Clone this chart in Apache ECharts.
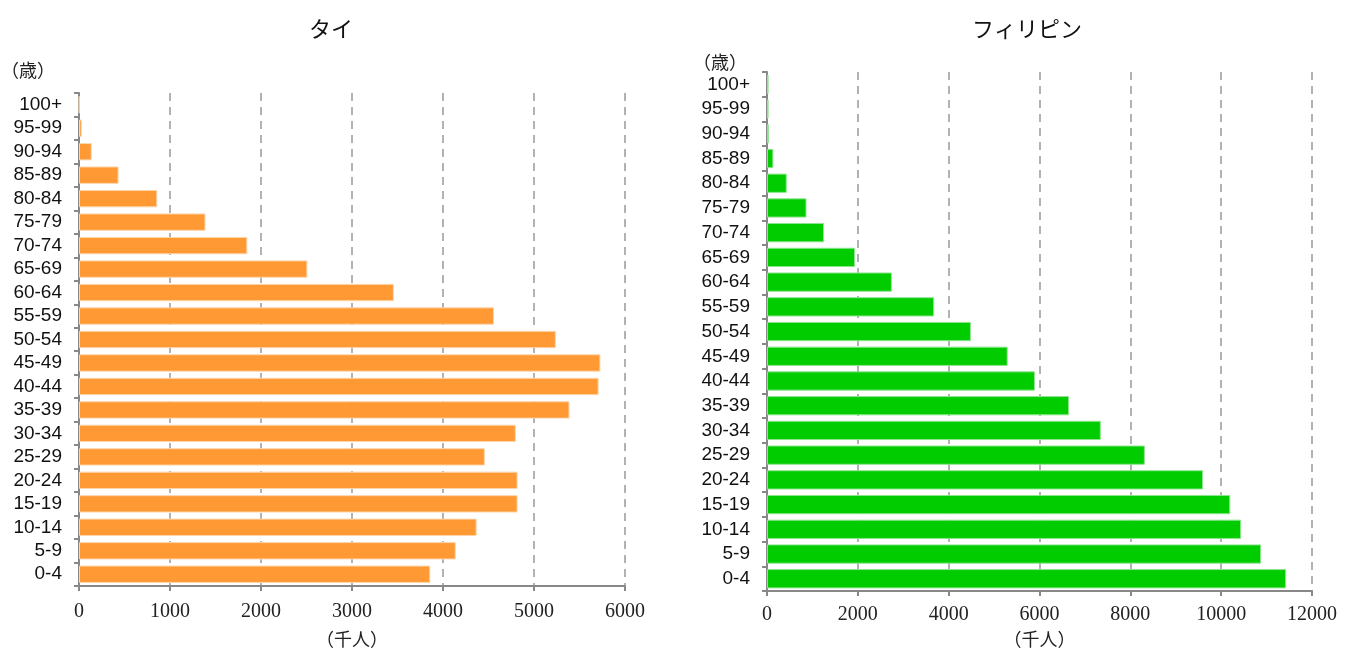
<!DOCTYPE html>
<html>
<head>
<meta charset="utf-8">
<script src="https://cdn.jsdelivr.net/npm/echarts@6/dist/echarts.min.js"></script>
<style>
  html, body { margin: 0; padding: 0; background: #fff; }
  #chart { width: 1352px; height: 653px; }
</style>
</head>
<body>
<div id="chart"></div>
<script>
// 年齢階級（下から上）
var ageGroups = ['0-4', '5-9', '10-14', '15-19', '20-24', '25-29', '30-34', '35-39', '40-44',
  '45-49', '50-54', '55-59', '60-64', '65-69', '70-74', '75-79', '80-84', '85-89', '90-94', '95-99', '100+'];

// タイ（千人）
var thaiValues = [3860, 4140, 4370, 4820, 4820, 4460, 4800, 5390, 5710,
  5730, 5240, 4560, 3460, 2510, 1850, 1390, 860, 435, 140, 30, 5];

// フィリピン（千人）
var philValues = [11430, 10880, 10440, 10200, 9600, 8320, 7350, 6650, 5900,
  5300, 4490, 3680, 2750, 1940, 1255, 870, 435, 140, 40, 35, 35];

var thaiTicks = [0, 6000, 1000];
var philTicks = [0, 12000, 2000];

var labelFont = 'Liberation Sans, Arial, sans-serif';
var cjkFont = '"Noto Sans CJK JP", sans-serif';
var serifFont = 'Liberation Serif, Times New Roman, serif';

function valueAxis(idx, ticks, gap, margin) {
  return {
    type: 'value',
    gridIndex: idx,
    min: ticks[0],
    max: ticks[1],
    interval: ticks[2],
    name: '（千人）',
    nameLocation: 'middle',
    nameGap: gap,
    nameTextStyle: { fontFamily: cjkFont, fontSize: 18, color: '#222' },
    axisLine: { show: true, lineStyle: { color: '#888', width: 2 } },
    axisTick: { show: true, length: 5, lineStyle: { color: '#888', width: 2 } },
    axisLabel: {
      fontFamily: serifFont, fontSize: 20, color: '#222', margin: margin,
      formatter: function (v) { return String(v); }
    },
    splitLine: { show: true, lineStyle: { color: '#999', width: 1.5, type: [8, 6] } }
  };
}

function categoryAxis(idx, pad, gap) {
  return {
    type: 'category',
    gridIndex: idx,
    data: ageGroups,
    name: '（歳）',
    nameLocation: 'end',
    nameGap: gap,
    nameTextStyle: { fontFamily: cjkFont, fontSize: 18, color: '#222', align: 'right', padding: [0, pad, 0, 0] },
    axisLine: { show: true, lineStyle: { color: '#888', width: 2 } },
    axisTick: { show: true, length: 5, lineStyle: { color: '#888', width: 2 } },
    axisLabel: { fontFamily: labelFont, fontSize: 19, color: '#111', margin: 17, interval: 0 },
    splitLine: { show: false }
  };
}

var chart = echarts.init(document.getElementById('chart'));
var option = {
  animation: false,
  title: [
    { text: 'タイ', left: 326, top: 13, textAlign: 'center',
      textStyle: { fontFamily: cjkFont, fontSize: 22, fontWeight: 'normal', color: '#111' } },
    { text: 'フィリピン', left: 1022, top: 13, textAlign: 'center',
      textStyle: { fontFamily: cjkFont, fontSize: 22, fontWeight: 'normal', color: '#111' } }
  ],
  grid: [
    { left: 77, right: 727, top: 93, bottom: 67, containLabel: false },
    { left: 767, right: 40, top: 72, bottom: 61, containLabel: false }
  ],
  xAxis: [valueAxis(0, thaiTicks, 44, 16), valueAxis(1, philTicks, 38, 14)],
  yAxis: [categoryAxis(0, 24, 14), categoryAxis(1, 20, 1)],
  series: [
    {
      type: 'bar', xAxisIndex: 0, yAxisIndex: 0, data: thaiValues,
      barCategoryGap: '26%',
      itemStyle: { color: '#ff9933', borderColor: '#fcd6ad', borderWidth: 1 }
    },
    {
      type: 'bar', xAxisIndex: 1, yAxisIndex: 1, data: philValues,
      barCategoryGap: '22%',
      itemStyle: { color: '#00cc00', borderColor: '#8fe58f', borderWidth: 1 }
    }
  ]
};
chart.setOption(option);
</script>
</body>
</html>
